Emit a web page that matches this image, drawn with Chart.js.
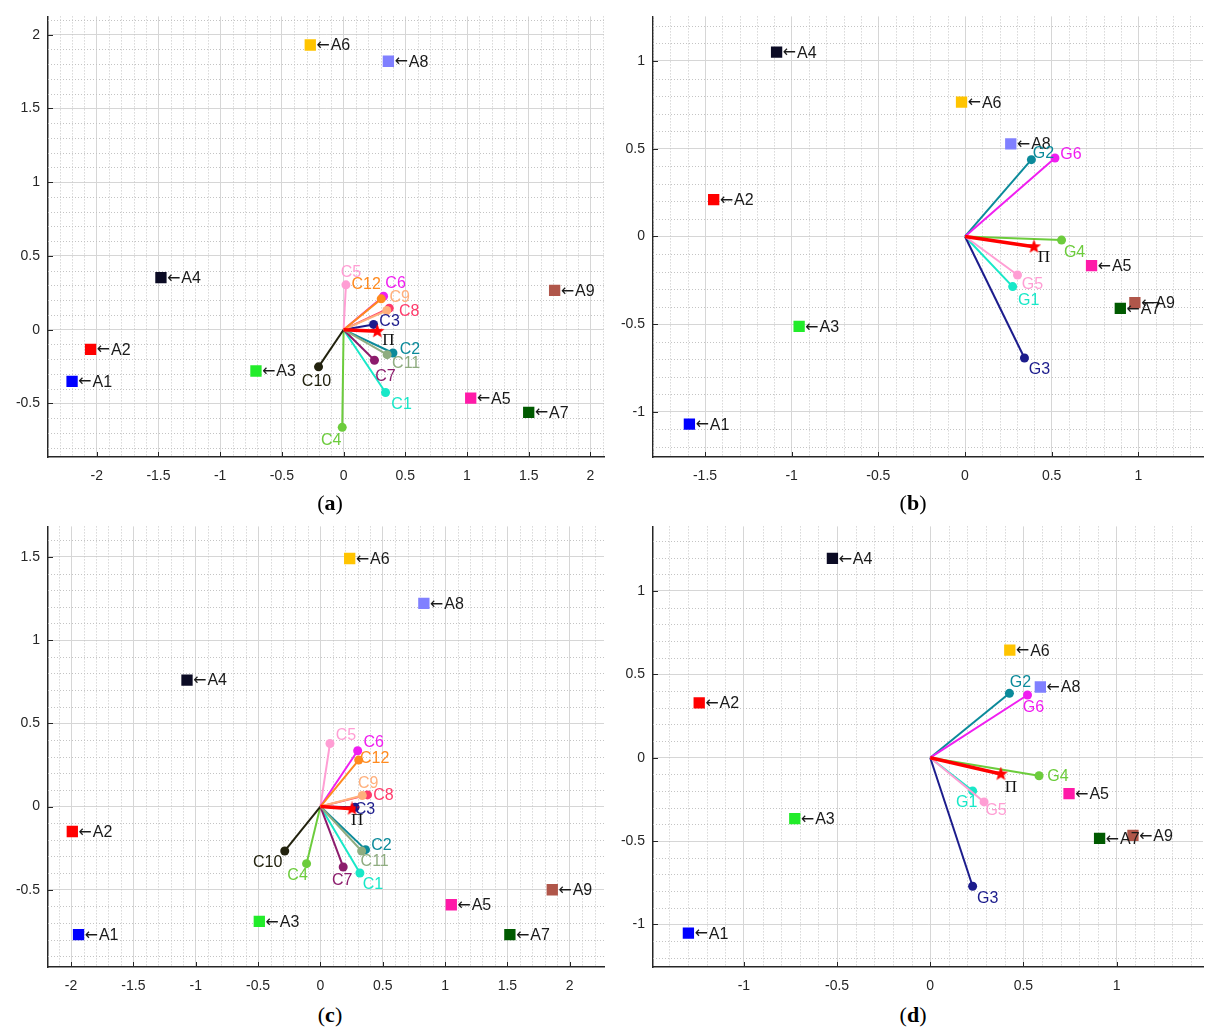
<!DOCTYPE html>
<html>
<head>
<meta charset="utf-8">
<script src="https://cdn.jsdelivr.net/npm/chart.js@4.4.0/dist/chart.umd.min.js"></script>
<style>
  body { margin: 0; background: #fff; width: 1211px; height: 1030px; position: relative; overflow: hidden; }
  canvas { position: absolute; }
  .cap { position: absolute; width: 60px; margin-left: -30px; text-align: center; font-family: "Liberation Serif", "DejaVu Serif", serif; font-size: 22px; line-height: 26px; color: #000; }
</style>
</head>
<body>
<canvas id="chartA" width="612" height="490" style="left:0;top:0"></canvas>
<canvas id="chartB" width="606" height="490" style="left:605px;top:0"></canvas>
<canvas id="chartC" width="612" height="490" style="left:0;top:510px"></canvas>
<canvas id="chartD" width="606" height="490" style="left:605px;top:510px"></canvas>
<div class="cap" style="left:330px;top:490px">(<b>a</b>)</div>
<div class="cap" style="left:913px;top:490px">(<b>b</b>)</div>
<div class="cap" style="left:330px;top:1002px">(<b>c</b>)</div>
<div class="cap" style="left:913px;top:1002px">(<b>d</b>)</div>
<script>
// names
const altNames = ['A1', 'A2', 'A3', 'A4', 'A5', 'A6', 'A7', 'A8', 'A9'];
const critNames = ['C1', 'C2', 'C3', 'C4', 'C5', 'C6', 'C7', 'C8', 'C9', 'C10', 'C11', 'C12'];
const groupNames = ['G1', 'G2', 'G3', 'G4', 'G5', 'G6'];

// panel (a)
const altXa = [-2.20, -2.05, -0.71, -1.48, 1.03, -0.27, 1.50, 0.363, 1.71];
const altYa = [-0.35, -0.133, -0.28, 0.353, -0.464, 1.93, -0.56, 1.82, 0.266];
const critXa = [0.34, 0.40, 0.243, -0.011, 0.019, 0.324, 0.25, 0.37, 0.35, -0.203, 0.353, 0.305];
const critYa = [-0.426, -0.158, 0.036, -0.662, 0.304, 0.227, -0.207, 0.146, 0.13, -0.252, -0.169, 0.209];

// panel (b)
const altXb = [-1.59, -1.45, -0.957, -1.087, 0.73, -0.02, 0.896, 0.264, 0.98];
const altYb = [-1.07, 0.21, -0.513, 1.05, -0.166, 0.765, -0.41, 0.528, -0.377];
const groupXb = [0.275, 0.383, 0.343, 0.557, 0.303, 0.519];
const groupYb = [-0.286, 0.4375, -0.693, -0.021, -0.22, 0.447];

// panel (c)
const altXc = [-1.94, -1.99, -0.49, -1.07, 1.05, 0.235, 1.52, 0.83, 1.86];
const altYc = [-0.77, -0.15, -0.69, 0.76, -0.59, 1.49, -0.77, 1.22, -0.50];
const critXc = [0.317, 0.362, 0.278, -0.111, 0.077, 0.299, 0.183, 0.378, 0.336, -0.286, 0.331, 0.307];
const critYc = [-0.399, -0.259, -0.004, -0.343, 0.379, 0.335, -0.363, 0.070, 0.066, -0.267, -0.267, 0.279];

// panel (d)
const altXd = [-1.298, -1.24, -0.727, -0.525, 0.745, 0.427, 0.909, 0.591, 1.088];
const altYd = [-1.052, 0.329, -0.365, 1.195, -0.215, 0.645, -0.484, 0.424, -0.466];
const groupXd = [0.2275, 0.425, 0.2275, 0.584, 0.289, 0.522];
const groupYd = [-0.199, 0.386, -0.771, -0.108, -0.265, 0.376];

// the decision vector (a, b, c, d)
const piX = [0.273, 0.398, 0.254, 0.379];
const piY = [-0.011, -0.059, -0.014, -0.098];

// colours
const altColors = ['#0000ff', '#ff0000', '#22ec2a', '#0b0b24', '#ff1aa8', '#ffc400', '#005a00', '#8080ff', '#b0564a'];
const critColors = ['#18e8c8', '#0b8a9a', '#1c1c8c', '#6ccc3c', '#ff9ed4', '#f01ef0', '#8c1c6c', '#ff3a6a', '#ffb07c', '#22220e', '#8fac80', '#ff8a1e'];
const groupColors = ['#18e8c8', '#0b8a9a', '#1c1c8c', '#6ccc3c', '#ff9ed4', '#f01ef0'];

// label offsets in px (dx, dy) from the end dot
const critOffA = [[16, 12], [17, -3], [16, -3], [-11, 13], [5, -12], [12, -13], [11, 16], [20, 3], [13, -13], [-2, 15], [19, 9], [-15, -14]];
const critOffC = [[13, 12], [16, -4], [10, 2], [-9, 12], [16, -8], [16, -8], [-1, 14], [16, 1], [6, -12], [-17, 12], [13, 11], [16, -2]];
const groupOffB = [[16, 14], [12, -6], [15, 12], [13, 12], [15, 10], [16, -3]];
const groupOffD = [[-6, 12], [11, -11], [15, 12], [19, 1], [12, 9], [6, 13]];
const piOff = [[11, 9], [10, 11], [5, 12], [10, 13]];

const sansFont = '"Liberation Sans", Arial, sans-serif';

function makeStar(size, color) {
  const c = document.createElement('canvas');
  c.width = c.height = size;
  const g = c.getContext('2d');
  const r = size / 2, ri = r * 0.42;
  g.beginPath();
  for (let k = 0; k < 10; k++) {
    const ang = -Math.PI / 2 + k * Math.PI / 5;
    const rr = k % 2 ? ri : r;
    g.lineTo(r + rr * Math.cos(ang), r + rr * Math.sin(ang));
  }
  g.closePath();
  g.fillStyle = color;
  g.fill();
  return c;
}
const starImg = makeStar(15, '#ff0000');

// dotted minor grid every 0.1 and inward ticks
const minorGrid = {
  id: 'minorGrid',
  beforeDatasetsDraw(chart) {
    const { ctx, chartArea: a, scales: { x, y } } = chart;
    ctx.save();
    ctx.strokeStyle = '#c4c4c4';
    ctx.lineWidth = 1;
    ctx.setLineDash([1, 2]);
    for (let i = Math.ceil(x.min * 10); i <= Math.floor(x.max * 10); i++) {
      if (i % 5 === 0) continue;
      const px = Math.round(x.getPixelForValue(i / 10)) + 0.5;
      ctx.beginPath(); ctx.moveTo(px, a.top); ctx.lineTo(px, a.bottom); ctx.stroke();
    }
    for (let i = Math.ceil(y.min * 10); i <= Math.floor(y.max * 10); i++) {
      if (i % 5 === 0) continue;
      const py = Math.round(y.getPixelForValue(i / 10)) + 0.5;
      ctx.beginPath(); ctx.moveTo(a.left, py); ctx.lineTo(a.right, py); ctx.stroke();
    }
    ctx.setLineDash([]);
    ctx.strokeStyle = '#262626';
    x.ticks.forEach(t => {
      const px = Math.round(x.getPixelForValue(t.value)) + 0.5;
      ctx.beginPath(); ctx.moveTo(px, a.bottom); ctx.lineTo(px, a.bottom - 5); ctx.stroke();
    });
    y.ticks.forEach(t => {
      const py = Math.round(y.getPixelForValue(t.value)) + 0.5;
      ctx.beginPath(); ctx.moveTo(a.left, py); ctx.lineTo(a.left + 5, py); ctx.stroke();
    });
    ctx.restore();
  }
};

// text next to the marks
const pointLabels = {
  id: 'pointLabels',
  afterDatasetsDraw(chart) {
    const ctx = chart.ctx;
    ctx.save();
    ctx.textBaseline = 'middle';
    chart.data.datasets.forEach((ds, i) => {
      if (!ds.labels) return;
      const meta = chart.getDatasetMeta(i);
      ds.labels.forEach(lb => {
        const el = meta.data[lb.index];
        let x = el.x + lb.dx;
        ctx.fillStyle = lb.color;
        ctx.textAlign = lb.align;
        if (lb.prefix) {
          // the arrow is wider in DejaVu Sans
          ctx.font = '16px "DejaVu Sans", sans-serif';
          ctx.fillText(lb.prefix, x, el.y + lb.dy);
          x += ctx.measureText(lb.prefix).width + 1;
        }
        ctx.font = lb.font;
        ctx.fillText(lb.text, x, el.y + lb.dy);
      });
    });
    ctx.restore();
  }
};

function altDataset(xs, ys) {
  return {
    data: xs.map((x, i) => ({ x: x, y: ys[i] })),
    pointStyle: 'rect',
    pointRadius: 8,
    pointBackgroundColor: altColors,
    pointBorderWidth: 0,
    showLine: false,
    order: 50,
    labels: altNames.map((n, i) => ({ index: i, prefix: '\u2190', text: n, color: '#1a1a1a', dx: 6, dy: 1, align: 'left', font: '16px ' + sansFont }))
  };
}

function vectorDataset(x, y, color, name, off, order) {
  return {
    data: [{ x: 0, y: 0 }, { x: x, y: y }],
    showLine: true,
    borderColor: color,
    borderWidth: 2,
    pointRadius: [0, 4.5],
    pointBackgroundColor: color,
    pointBorderWidth: 0,
    order: order,
    labels: [{ index: 1, text: name, color: color, dx: off[0], dy: off[1], align: 'center', font: '16px ' + sansFont }]
  };
}

function piDataset(x, y, off) {
  return {
    data: [{ x: 0, y: 0 }, { x: x, y: y }],
    showLine: true,
    borderColor: '#ff0000',
    borderWidth: 3.5,
    pointStyle: ['circle', starImg],
    pointRadius: [0, 7],
    pointBorderWidth: 0,
    order: 0,
    labels: [{ index: 1, text: '\u03A0', color: '#111', dx: off[0], dy: off[1], align: 'center', font: '17px "Liberation Serif", serif' }]
  };
}

function tickLabel(v) {
  if (Math.abs(v * 2 - Math.round(v * 2)) > 1e-6) return '';
  return String(Math.round(v * 10) / 10);
}

function axis(min, max, isX) {
  return {
    type: 'linear',
    min: min,
    max: max,
    ticks: {
      stepSize: 0.5,
      includeBounds: false,
      autoSkip: false,
      maxRotation: 0,
      padding: isX ? 11 : 8,
      color: '#262626',
      font: { family: sansFont, size: 14 },
      callback: tickLabel
    },
    grid: { color: '#d6d6d6', lineWidth: 1, drawTicks: false },
    border: { color: '#262626', width: 1.5 },
    afterFit: isX ? (s => { s.height = 33; }) : (s => { s.width = 48; })
  };
}

function makePanel(id, range, datasets, rightPad) {
  new Chart(document.getElementById(id), {
    type: 'scatter',
    data: { datasets: datasets },
    options: {
      responsive: false,
      animation: false,
      events: [],
      layout: { padding: { top: 15, right: rightPad, left: 0, bottom: 0 } },
      plugins: { legend: { display: false }, tooltip: { enabled: false } },
      scales: {
        x: axis(range[0], range[1], true),
        y: axis(range[2], range[3], false)
      }
    },
    plugins: [minorGrid, pointLabels]
  });
}

function vectors(names, colors, xs, ys, offs) {
  return names.map((n, i) => vectorDataset(xs[i], ys[i], colors[i], n, offs[i], names.length - i));
}

makePanel('chartA', [-2.395, 2.11, -0.863, 2.124],
  [altDataset(altXa, altYa), piDataset(piX[0], piY[0], piOff[0])].concat(vectors(critNames, critColors, critXa, critYa, critOffA)), 2);
makePanel('chartB', [-1.80, 1.373, -1.257, 1.254],
  [altDataset(altXb, altYb), piDataset(piX[1], piY[1], piOff[1])].concat(vectors(groupNames, groupColors, groupXb, groupYb, groupOffB)), 0);
makePanel('chartC', [-2.185, 2.275, -0.964, 1.683],
  [altDataset(altXc, altYc), piDataset(piX[2], piY[2], piOff[2])].concat(vectors(critNames, critColors, critXc, critYc, critOffC)), 2);
makePanel('chartD', [-1.488, 1.464, -1.255, 1.387],
  [altDataset(altXd, altYd), piDataset(piX[3], piY[3], piOff[3])].concat(vectors(groupNames, groupColors, groupXd, groupYd, groupOffD)), 0);
</script>
</body>
</html>
